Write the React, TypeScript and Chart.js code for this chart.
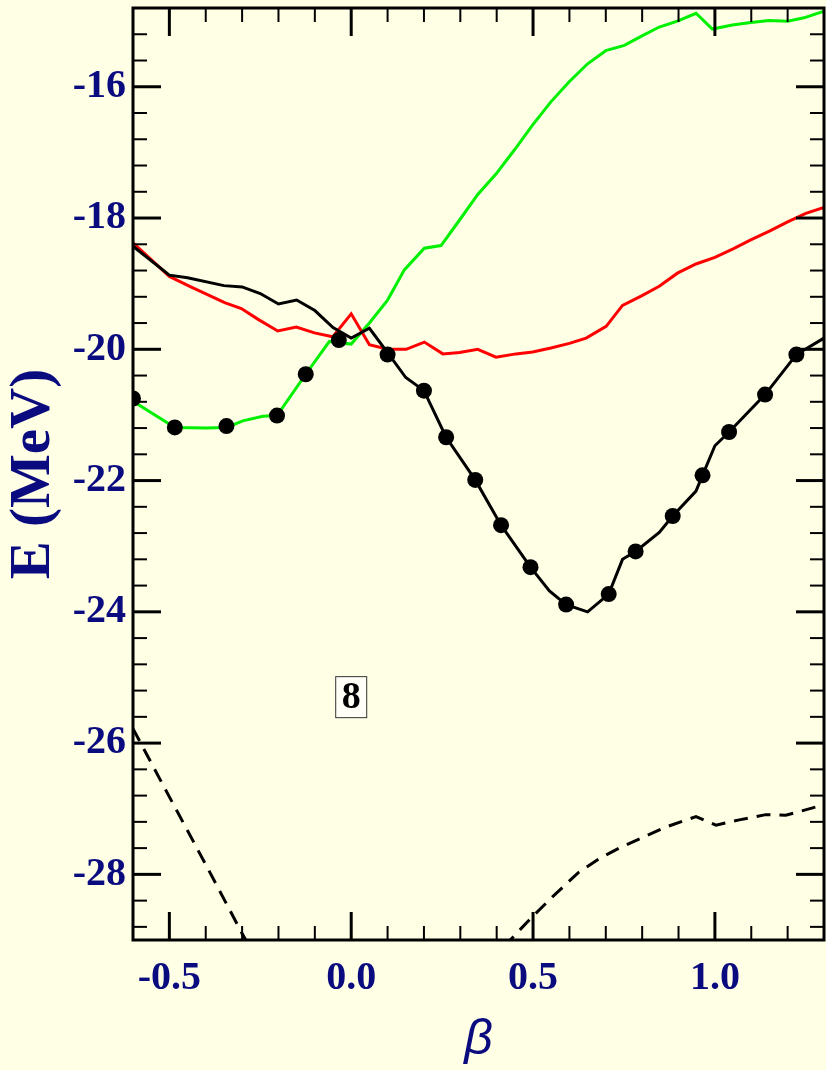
import { useEffect, useRef } from 'react'
import { Chart, registerables } from 'chart.js'
import type { Plugin } from 'chart.js'

Chart.register(...registerables)

// valeurs (beta, energie en MeV)
const dotBeta = [-0.6, -0.485, -0.343, -0.204, -0.125, -0.034, 0.1, 0.2, 0.261, 0.341, 0.412, 0.493, 0.591, 0.708, 0.782, 0.884, 0.966, 1.039, 1.138, 1.224]
const dotE = [-20.75, -21.19, -21.17, -21.01, -20.38, -19.86, -20.08, -20.63, -21.34, -21.99, -22.68, -23.32, -23.89, -23.73, -23.08, -22.54, -21.92, -21.26, -20.69, -20.08]

const blackBeta = [-0.6, -0.5, -0.45, -0.35, -0.3, -0.25, -0.2, -0.15, -0.1, -0.05, 0.0, 0.05, 0.1, 0.15, 0.2, 0.261, 0.341, 0.412, 0.493, 0.545, 0.591, 0.65, 0.708, 0.746, 0.782, 0.847, 0.884, 0.948, 0.966, 1.0, 1.039, 1.138, 1.224, 1.3]
const blackE = [-18.43, -18.87, -18.91, -19.03, -19.05, -19.15, -19.31, -19.25, -19.41, -19.67, -19.83, -19.68, -20.05, -20.43, -20.63, -21.34, -21.99, -22.68, -23.32, -23.68, -23.89, -24.0, -23.73, -23.2, -23.08, -22.79, -22.54, -22.16, -21.92, -21.47, -21.26, -20.69, -20.08, -19.83]

const redBeta = [-0.6, -0.5, -0.444, -0.348, -0.302, -0.257, -0.202, -0.151, -0.101, -0.051, 0.0, 0.05, 0.1, 0.151, 0.201, 0.252, 0.298, 0.348, 0.398, 0.453, 0.499, 0.549, 0.6, 0.646, 0.701, 0.746, 0.797, 0.847, 0.897, 0.948, 1.0, 1.05, 1.1, 1.15, 1.2, 1.25, 1.3]
const redE = [-18.38, -18.89, -19.04, -19.29, -19.38, -19.54, -19.72, -19.66, -19.75, -19.81, -19.46, -19.93, -20.0, -20.0, -19.89, -20.07, -20.05, -20.0, -20.12, -20.07, -20.04, -19.98, -19.91, -19.83, -19.65, -19.33, -19.19, -19.04, -18.84, -18.7, -18.6, -18.47, -18.33, -18.2, -18.06, -17.93, -17.84]

const greenBeta = [-0.6, -0.485, -0.4, -0.343, -0.298, -0.243, -0.204, -0.125, -0.06, 0.0, 0.05, 0.1, 0.146, 0.201, 0.247, 0.298, 0.348, 0.398, 0.449, 0.499, 0.549, 0.6, 0.65, 0.7, 0.751, 0.801, 0.847, 0.897, 0.948, 0.993, 1.048, 1.099, 1.149, 1.2, 1.245, 1.3]
const greenE = [-20.79, -21.19, -21.2, -21.19, -21.09, -21.02, -21.01, -20.38, -19.88, -19.92, -19.6, -19.25, -18.79, -18.46, -18.42, -18.03, -17.64, -17.33, -16.96, -16.58, -16.23, -15.92, -15.65, -15.45, -15.37, -15.22, -15.09, -15.0, -14.88, -15.12, -15.06, -15.02, -14.99, -15.0, -14.95, -14.85]

const dashLeftBeta = [-0.6, -0.5, -0.4, -0.3, -0.25]
const dashLeftE = [-25.78, -26.82, -27.85, -28.9, -29.4]

const dashRightBeta = [0.42, 0.499, 0.554, 0.623, 0.682, 0.737, 0.801, 0.865, 0.948, 1.003, 1.067, 1.14, 1.195, 1.3]
const dashRightE = [-29.1, -28.64, -28.34, -27.98, -27.76, -27.6, -27.44, -27.28, -27.12, -27.25, -27.17, -27.09, -27.1, -26.94]

// graduations
const xTickValues = [-0.5, 0.0, 0.5, 1.0]
const xMinorTicks = [-0.4, -0.3, -0.2, -0.1, 0.1, 0.2, 0.3, 0.4, 0.6, 0.7, 0.8, 0.9, 1.1, 1.2]
const yTickValues = [-28, -26, -24, -22, -20, -18, -16]
const yMinorTicks = [-28.8, -28.4, -27.6, -27.2, -26.8, -26.4, -25.6, -25.2, -24.8, -24.4, -23.6, -23.2, -22.8, -22.4, -21.6, -21.2, -20.8, -20.4, -19.6, -19.2, -18.8, -18.4, -17.6, -17.2, -16.8, -16.4, -15.6, -15.2]

const panelLabel = '8'
const panelLabelBeta = 0.0
const panelLabelE = -25.3

const NAVY = '#0b0b80'
const BG = '#ffffe6'
const SERIF = '"Liberation Serif", "Times New Roman", serif'

// le canvas deborde un peu a droite : chart.js garde 8px de marge a cause des gros points
const CANVAS_W = 832
const CANVAS_H = 1070

const toPoints = (xs: number[], ys: number[]) => xs.map((x, i) => ({ x, y: ys[i] }))

// on enleve le padding que chart.js ajoute pour les etiquettes qui debordent
const fixAxis = (s: any, size: { width?: number, height?: number }) => {
    if (size.width !== undefined) s.width = size.width
    if (size.height !== undefined) s.height = size.height
    s.paddingTop = 0
    s.paddingBottom = 0
    s.paddingLeft = 0
    s.paddingRight = 0
}

// fond, cadre, graduations vers l'interieur et l'etiquette du panneau
const framePlugin: Plugin = {
    id: 'frame',
    beforeDraw(chart) {
        const { ctx, width, height } = chart
        ctx.save()
        ctx.fillStyle = BG
        ctx.fillRect(0, 0, width, height)
        ctx.restore()
    },
    afterDatasetsDraw(chart) {
        const { ctx, chartArea: a, scales } = chart
        const xs = scales.x
        const ys = scales.y
        const seg = (x1: number, y1: number, x2: number, y2: number) => {
            ctx.beginPath()
            ctx.moveTo(x1, y1)
            ctx.lineTo(x2, y2)
            ctx.stroke()
        }
        ctx.save()
        ctx.strokeStyle = '#000'
        ctx.lineWidth = 2
        xMinorTicks.forEach(v => {
            const px = xs.getPixelForValue(v)
            seg(px, a.bottom, px, a.bottom - 14)
            seg(px, a.top, px, a.top + 14)
        })
        yMinorTicks.forEach(v => {
            const py = ys.getPixelForValue(v)
            seg(a.left, py, a.left + 14, py)
            seg(a.right, py, a.right - 14, py)
        })
        ctx.lineWidth = 3
        xTickValues.forEach(v => {
            const px = xs.getPixelForValue(v)
            seg(px, a.bottom, px, a.bottom - 28)
            seg(px, a.top, px, a.top + 28)
        })
        yTickValues.forEach(v => {
            const py = ys.getPixelForValue(v)
            seg(a.left, py, a.left + 28, py)
            seg(a.right, py, a.right - 28, py)
        })
        ctx.strokeRect(a.left, a.top, a.right - a.left, a.bottom - a.top)

        // petite boite avec le numero
        const cx = xs.getPixelForValue(panelLabelBeta)
        const cy = ys.getPixelForValue(panelLabelE)
        ctx.fillStyle = '#fffff8'
        ctx.fillRect(cx - 15, cy - 20, 30, 40)
        ctx.lineWidth = 1
        ctx.strokeStyle = '#333'
        ctx.strokeRect(cx - 15.5, cy - 20.5, 31, 41)
        ctx.fillStyle = '#000'
        ctx.font = `bold 38px ${SERIF}`
        ctx.textAlign = 'center'
        ctx.textBaseline = 'middle'
        ctx.fillText(panelLabel, cx, cy + 1)
        ctx.restore()
    },
}

function App() {
    const canvasRef = useRef<HTMLCanvasElement>(null)

    useEffect(() => {
        document.body.style.margin = '0'
        document.body.style.background = BG
        if (!canvasRef.current) return

        const lineStyle = (color: string) => ({
            showLine: true,
            borderColor: color,
            borderWidth: 3,
            pointRadius: 0,
            fill: false,
            tension: 0,
            clip: 0,
        })

        const chart = new Chart(canvasRef.current, {
            type: 'scatter',
            data: {
                datasets: [
                    {
                        label: 'min',
                        data: toPoints(dotBeta, dotE),
                        showLine: false,
                        pointRadius: 8,
                        pointHoverRadius: 8,
                        pointBackgroundColor: '#000',
                        pointBorderWidth: 0,
                        clip: 0,
                    },
                    { label: 'black', data: toPoints(blackBeta, blackE), ...lineStyle('#000000') },
                    { label: 'red', data: toPoints(redBeta, redE), ...lineStyle('#ff0000') },
                    { label: 'green', data: toPoints(greenBeta, greenE), ...lineStyle('#00f000') },
                    { label: 'dash1', data: toPoints(dashLeftBeta, dashLeftE), ...lineStyle('#000000'), borderDash: [14, 9] },
                    { label: 'dash2', data: toPoints(dashRightBeta, dashRightE), ...lineStyle('#000000'), borderDash: [14, 9] },
                ],
            },
            options: {
                responsive: false,
                animation: false,
                layout: { padding: { top: 7, right: 2, left: 0, bottom: 0 } },
                plugins: {
                    legend: { display: false },
                    tooltip: { enabled: false },
                },
                scales: {
                    x: {
                        type: 'linear',
                        min: -0.6,
                        max: 1.3,
                        afterBuildTicks: (s: any) => { s.ticks = xTickValues.map(v => ({ value: v })) },
                        afterFit: (s: any) => fixAxis(s, { height: 130 }),
                        grid: { display: false, drawTicks: false },
                        border: { display: false },
                        ticks: {
                            color: NAVY,
                            padding: 15,
                            font: { family: SERIF, size: 40, weight: 'bold' },
                            callback: (v: any) => Number(v).toFixed(1),
                        },
                        title: {
                            display: true,
                            text: 'β',
                            color: NAVY,
                            font: { family: '"Liberation Sans", Arial, sans-serif', size: 50, style: 'italic' },
                            padding: { top: 0, bottom: 0 },
                        },
                    },
                    y: {
                        type: 'linear',
                        min: -29,
                        max: -14.8,
                        afterBuildTicks: (s: any) => { s.ticks = yTickValues.map(v => ({ value: v })) },
                        afterFit: (s: any) => fixAxis(s, { width: 133 }),
                        grid: { display: false, drawTicks: false },
                        border: { display: false },
                        ticks: {
                            color: NAVY,
                            padding: 7,
                            font: { family: SERIF, size: 40, weight: 'bold' },
                            callback: (v: any) => String(v),
                        },
                        title: {
                            display: true,
                            text: 'E (MeV)',
                            color: NAVY,
                            font: { family: SERIF, size: 57, weight: 'bold' },
                            padding: { top: 0, bottom: 0 },
                        },
                    },
                },
            },
            plugins: [framePlugin],
        })

        return () => {
            chart.destroy()
        }
    }, [])

    return (
        <div style={{ width: 826, height: CANVAS_H, overflow: 'hidden' }}>
            <canvas ref={canvasRef} width={CANVAS_W} height={CANVAS_H}></canvas>
        </div>
    )
}

export default App
